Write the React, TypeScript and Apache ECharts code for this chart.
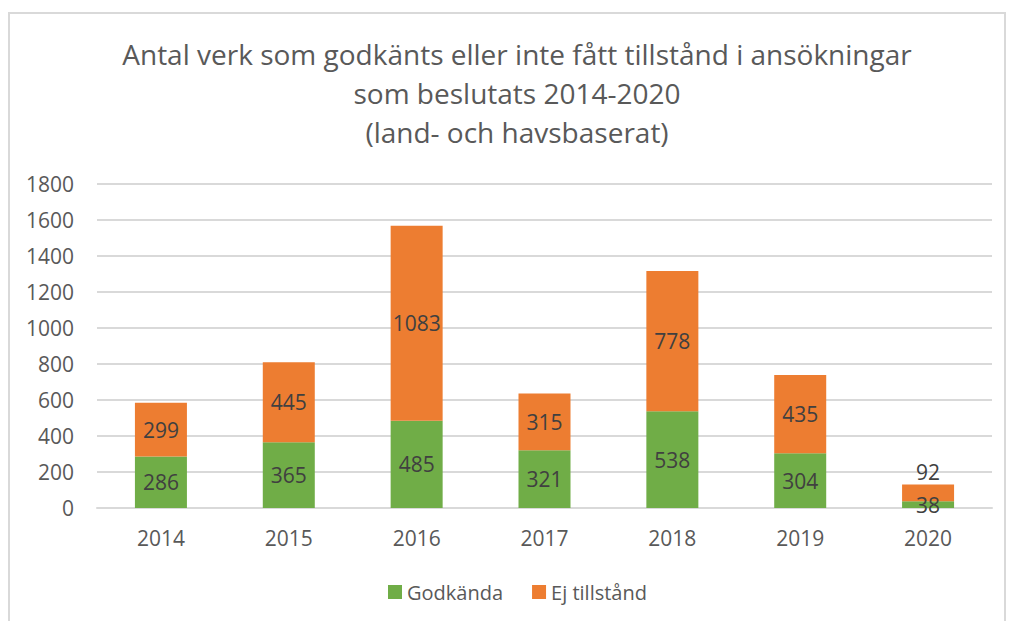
import React, { useEffect, useRef } from "react";
import * as echarts from "echarts";

const titleLines = [
  "Antal verk som godkänts eller inte fått tillstånd i ansökningar",
  "som beslutats 2014-2020",
  "(land- och havsbaserat)",
];
const years = ["2014", "2015", "2016", "2017", "2018", "2019", "2020"];
const godkanda = [286, 365, 485, 321, 538, 304, 38];
const ejTillstand = [299, 445, 1083, 315, 778, 435, 92];
const seriesNames = ["Godkända", "Ej tillstånd"];

const FONT = "Open Sans";
const TEXT = "#595959";
const LABEL = "#404040";

export default function App() {
  const ref = useRef<HTMLDivElement>(null);
  useEffect(() => {
    document.body.style.margin = "0";
    const chart = echarts.init(ref.current!, null, { renderer: "svg" });
    chart.setOption({
      animation: false,
      backgroundColor: "#ffffff",
      textStyle: { fontFamily: FONT },
      title: {
        text: titleLines.join("\n"),
        left: 512,
        textAlign: "center",
        top: 29,
        textStyle: {
          fontFamily: FONT,
          fontSize: 28,
          fontWeight: "normal",
          color: TEXT,
          lineHeight: 39,
        },
      },
      graphic: [
        {
          type: "rect",
          shape: { x: 9, y: 13, width: 996, height: 640 },
          style: { fill: "none", stroke: "#d9d9d9", lineWidth: 2 },
          silent: true,
        },
      ],
      legend: {
        data: seriesNames,
        left: 383,
        top: 577,
        icon: "rect",
        itemWidth: 14,
        itemHeight: 14,
        itemGap: 29,
        textStyle: { fontFamily: FONT, fontSize: 20, color: TEXT },
      },
      grid: { left: 97, right: 19, top: 184, bottom: 113, containLabel: false },
      xAxis: {
        type: "category",
        data: years,
        axisLine: { lineStyle: { color: "#d9d9d9", width: 2 } },
        axisTick: { show: false },
        axisLabel: { fontFamily: FONT, fontSize: 21, color: TEXT, margin: 19 },
      },
      yAxis: {
        type: "value",
        min: 0,
        max: 1800,
        interval: 200,
        axisLine: { show: false },
        axisTick: { show: false },
        splitLine: { lineStyle: { color: "#d9d9d9", width: 2 } },
        axisLabel: {
          fontFamily: FONT,
          fontSize: 21,
          color: TEXT,
          margin: 23,
          formatter: (v: number) => String(v),
        },
      },
      series: [
        {
          name: seriesNames[0],
          type: "bar",
          stack: "total",
          barWidth: 52,
          itemStyle: { color: "#70AD47" },
          label: {
            show: true,
            position: "inside",
            fontFamily: FONT,
            fontSize: 21,
            color: LABEL,
          },
          data: godkanda,
        },
        {
          name: seriesNames[1],
          type: "bar",
          stack: "total",
          barWidth: 52,
          itemStyle: { color: "#ED7D31" },
          label: {
            show: true,
            position: "inside",
            fontFamily: FONT,
            fontSize: 21,
            color: LABEL,
          },
          data: ejTillstand.map((v, i) =>
            i === ejTillstand.length - 1
              ? { value: v, label: { position: "top", distance: 2 } }
              : v
          ),
        },
      ],
    });
    return () => chart.dispose();
  }, []);
  return <div ref={ref} style={{ width: 1011, height: 621 }} />;
}
